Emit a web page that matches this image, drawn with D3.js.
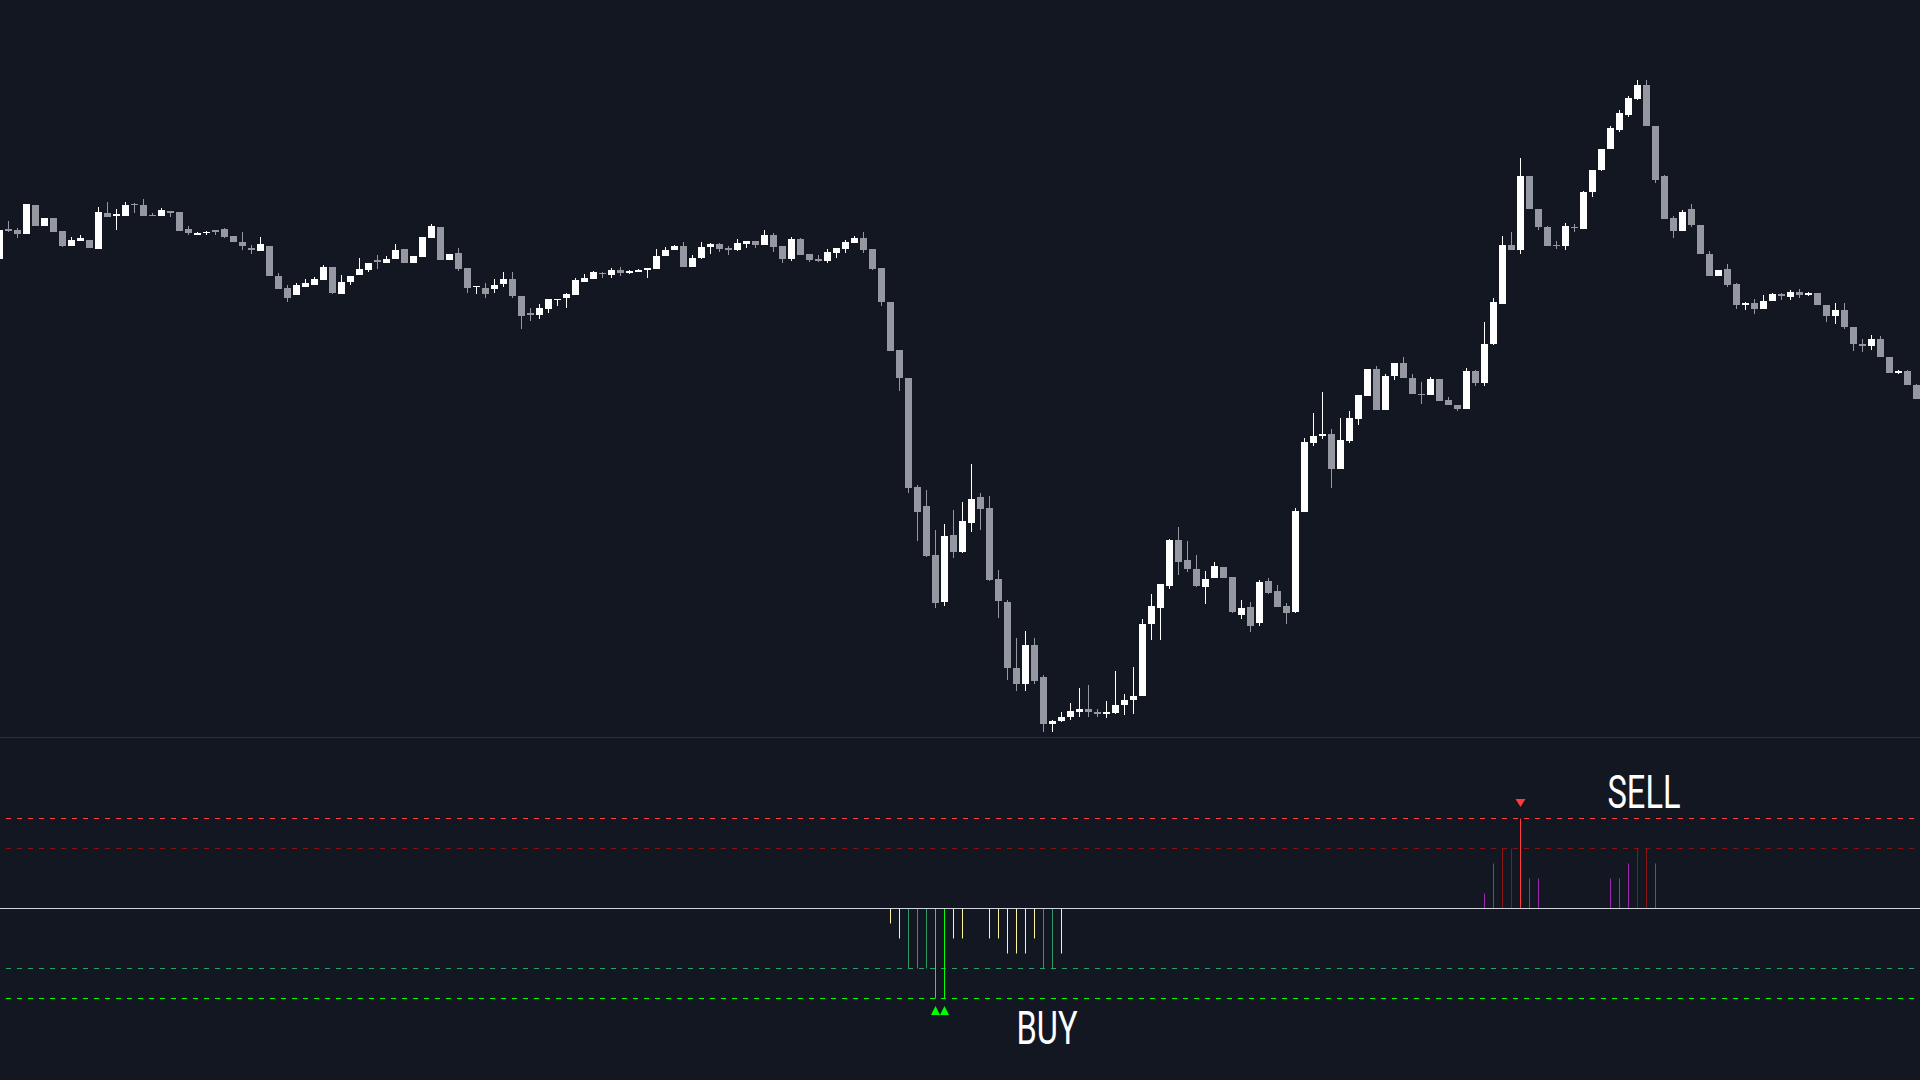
<!DOCTYPE html>
<html><head><meta charset="utf-8">
<script src="https://cdn.jsdelivr.net/npm/d3@7"></script>
<style>html,body{margin:0;padding:0;background:#131722;overflow:hidden}</style>
</head><body>
<svg id="chart" width="1920" height="1080"></svg>
<script>
// ---- price series (OHLC), one candle per bar ----
const open  = [741,771,770,766,795,774,782,769,754,759,760,751,787,784,784,796,795,785,784,789,788,771,765,767,770,771,764,758,752,749,754,724,712,705,713,715,720,733,706,718,725,730,740,737,741,751,737,743,762,773,740,747,732,713,712,711,716,721,704,687,685,691,700,702,705,718,721,727,725,730,727,728,730,731,744,750,754,733,742,753,756,752,750,756,759,755,765,754,741,761,746,741,739,747,751,757,762,751,732,698,650,622,513,494,445,398,465,448,477,503,492,421,398,332,316,355,323,276,279,283,288,291,288,286,287,295,300,304,376,392,414,460,440,431,413,422,433,423,385,393,377,419,409,394,388,488,557,564,566,531,559,581,604,631,590,624,637,622,606,605,621,600,595,591,629,617,656,696,755,750,824,791,773,755,754,773,771,808,830,851,870,885,901,915,874,824,782,769,791,775,746,724,731,716,695,697,691,699,706,703,708,705,707,695,684,690,673,656,654,661,643,627,629,615];
const high  = [774,779,772,796,795,782,782,769,763,765,760,793,798,791,798,797,801,787,792,789,788,774,768,769,770,772,764,768,755,763,754,727,715,717,721,723,735,733,725,724,742,737,745,744,756,751,744,763,776,773,746,752,732,714,717,721,728,728,704,692,696,701,701,707,722,726,729,728,732,733,730,731,732,751,753,755,758,745,758,757,757,754,761,759,759,770,767,754,763,762,746,745,751,752,760,764,768,751,732,698,650,622,515,510,470,476,490,498,536,507,504,430,400,362,369,362,325,280,288,297,312,315,291,299,329,306,333,381,406,416,461,473,459,445,429,438,433,423,400,398,420,422,415,397,492,562,587,608,571,582,589,605,631,634,626,637,643,626,618,623,621,603,595,632,630,678,702,764,768,842,824,791,774,759,777,776,809,830,851,874,890,904,920,920,874,825,784,790,796,775,749,730,736,717,698,701,705,707,707,710,711,708,707,695,697,697,673,661,665,664,643,630,630,616];
const low   = [738,768,762,766,774,774,768,753,754,759,752,751,783,770,784,787,784,784,784,783,769,765,765,765,765,762,758,750,746,749,724,711,698,705,713,715,720,706,706,715,725,728,731,737,741,737,737,743,762,740,740,729,707,706,702,707,713,702,671,679,681,687,694,692,705,718,721,722,722,724,726,728,722,731,744,750,733,733,741,746,748,745,749,752,752,755,748,737,739,745,738,738,737,742,747,757,747,730,694,649,609,507,459,443,392,394,442,447,468,470,419,382,320,309,309,316,268,268,278,280,283,283,283,282,286,285,286,304,360,360,411,425,428,413,396,422,422,387,381,368,374,406,393,376,387,488,554,561,512,531,557,575,604,590,590,620,622,606,596,605,599,595,589,591,614,614,655,696,750,746,791,770,754,751,750,768,771,803,829,851,868,883,900,874,817,781,762,769,773,746,724,724,713,691,690,686,691,699,700,700,702,704,695,678,676,671,649,648,650,643,627,626,615,601];
const close = [770,769,766,796,774,782,768,754,760,762,752,788,783,786,795,795,784,784,790,787,769,767,767,768,768,763,758,754,750,756,724,711,702,715,717,721,733,707,718,724,731,737,738,741,750,737,744,763,774,740,746,731,712,714,706,715,721,704,684,685,692,701,701,706,720,722,728,726,730,727,729,730,732,744,750,754,733,742,753,756,751,750,757,759,755,765,753,741,761,745,740,739,748,752,758,762,750,731,698,649,622,512,488,444,397,464,448,479,501,491,420,399,332,316,355,319,276,279,283,289,291,288,286,288,295,300,304,376,394,416,460,438,431,414,421,434,422,388,392,374,418,407,393,387,489,558,564,566,531,560,582,605,631,590,624,637,622,606,605,621,599,595,591,629,617,656,698,755,750,824,791,773,754,754,774,772,808,830,851,872,887,902,915,874,820,781,769,788,775,746,724,730,715,695,697,691,699,706,704,708,705,707,695,684,690,673,656,654,661,643,627,629,615,601];

// ---- oscillator histogram (bar index, value) ----
const oscIndex = [99,100,101,102,103,104,105,106,107,110,111,112,113,114,115,116,117,118,
                  165,166,167,168,169,170,171,179,180,181,182,183,184];
const oscValue = [-1,-2,-4,-4,-4,-6,-6,-2,-2,-2,-2,-3,-3,-3,-2,-4,-4,-3,
                  1,3,4,4,6,2,2,2,2,3,4,4,3];
const levels      = [6, 4, -4, -6];
const levelColors = ["#ff3b3b", "#8b1010", "#27a163", "#00ff00"];
const buySignals  = [104, 105];
const sellSignals = [169];
const labels = [{text:"SELL", idx:179, level:6}, {text:"BUY", idx:113, level:-6}];

const W = 1920, H = 1080;
const svg = d3.select("#chart");
svg.append("rect").attr("width", W).attr("height", H).attr("fill", "#131722");

const n = open.length;
const x = d3.scaleLinear().domain([0, n - 1]).range([-0.5, -0.5 + 9 * (n - 1)]);
const y = d3.scaleLinear().domain([260, 1000]).range([740, 0]);

const UP = "#ffffff", DOWN = "#9598a1";
const candles = d3.range(n).map(i => ({i, o: open[i], h: high[i], l: low[i], c: close[i]}));
const g = svg.append("g");
g.selectAll("line.wick").data(candles).join("line")
  .attr("x1", d => x(d.i)).attr("x2", d => x(d.i))
  .attr("y1", d => y(d.h)).attr("y2", d => y(d.l))
  .attr("stroke", d => d.c >= d.o ? UP : DOWN).attr("stroke-width", 1);
g.selectAll("rect.body").data(candles).join("rect")
  .attr("x", d => x(d.i) - 3.5).attr("width", 7)
  .attr("y", d => y(Math.max(d.o, d.c)))
  .attr("height", d => Math.max(1, Math.abs(y(d.o) - y(d.c))))
  .attr("fill", d => d.c >= d.o ? UP : DOWN);

// pane divider
svg.append("line").attr("x1", 0).attr("x2", W).attr("y1", 737.5).attr("y2", 737.5)
  .attr("stroke", "#2a2e39").attr("stroke-width", 1);

// ---- oscillator pane ----
const yo = d3.scaleLinear().domain([-6, 6]).range([998.5, 818.5]);
svg.selectAll("line.level").data(levels).join("line")
  .attr("x1", 6).attr("x2", W).attr("y1", d => yo(d)).attr("y2", d => yo(d))
  .attr("stroke", (d, k) => levelColors[k]).attr("stroke-width", 1)
  .attr("stroke-dasharray", "5,6");

function barColor(v) {
  if (v >= 6) return "#ff3b3b";
  if (v >= 4) return "#8b1515";
  if (v > 0) return "#9c27b0";
  if (v <= -6) return "#00ff00";
  if (v <= -4) return "#2e9a62";
  return "#fff59d";
}
const bars = oscIndex.map((idx, k) => ({idx, v: oscValue[k]}));
svg.selectAll("line.bar").data(bars).join("line")
  .attr("x1", d => x(d.idx)).attr("x2", d => x(d.idx))
  .attr("y1", yo(0)).attr("y2", d => yo(d.v))
  .attr("stroke", d => barColor(d.v)).attr("stroke-width", 1);

// zero line
svg.append("line").attr("x1", 0).attr("x2", W).attr("y1", yo(0)).attr("y2", yo(0))
  .attr("stroke", "#d1d4dc").attr("stroke-width", 1);

// signal markers
svg.selectAll("path.buy").data(buySignals).join("path")
  .attr("d", i => { const cx = x(i), b = yo(-6) + 16.5; return `M${cx-4.5},${b}L${cx+4.5},${b}L${cx},${b-9}Z`; })
  .attr("fill", "#00ff00");
svg.selectAll("path.sell").data(sellSignals).join("path")
  .attr("d", i => { const cx = x(i), t = yo(6) - 19.5; return `M${cx-5},${t}L${cx+5},${t}L${cx},${t+8}Z`; })
  .attr("fill", "#ff3b3b");

// labels
svg.selectAll("text.lbl").data(labels).join("text")
  .attr("x", d => d.level > 0 ? x(d.idx) - 3 : x(d.idx))
  .attr("y", d => d.level > 0 ? yo(d.level) - 11 : yo(d.level) + 45)
  .attr("fill", "#ffffff")
  .attr("font-family", "Roboto, 'Open Sans', sans-serif")
  .attr("font-size", 46)
  .attr("textLength", d => d.text === "SELL" ? 73 : 61)
  .attr("lengthAdjust", "spacingAndGlyphs")
  .text(d => d.text);
</script>
</body></html>
